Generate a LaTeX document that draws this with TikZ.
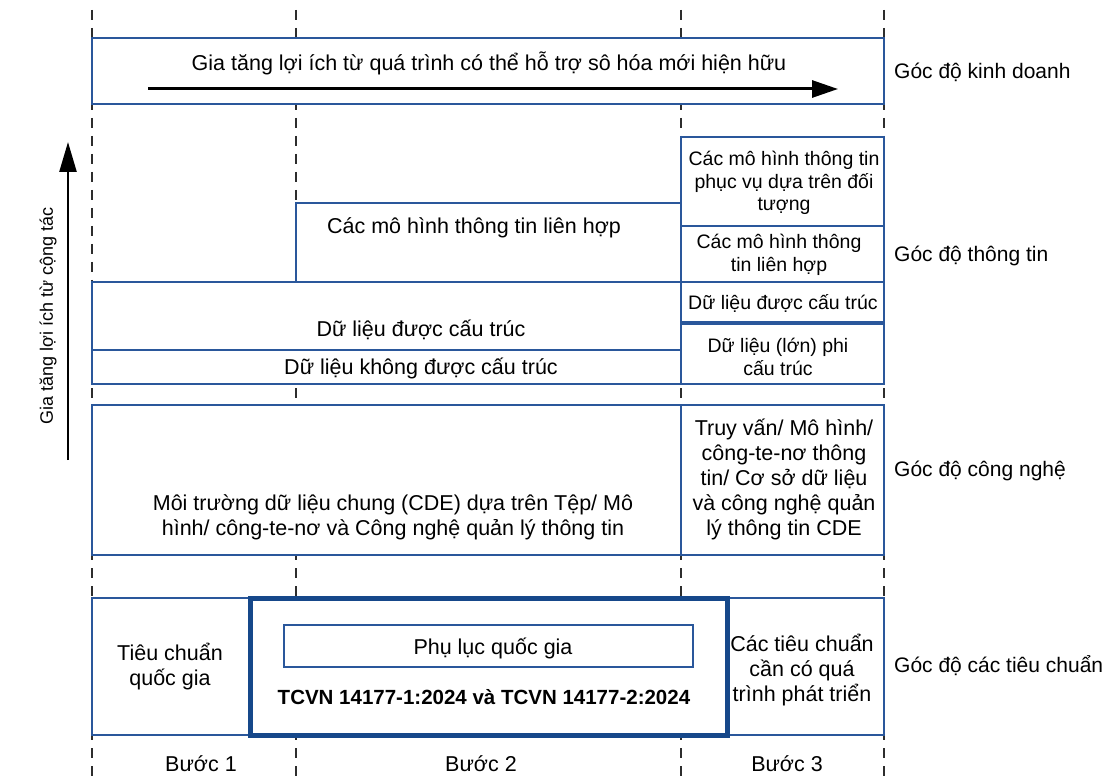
\documentclass[tikz,border=0pt]{standalone}
\usepackage{fontspec}
\setmainfont{Liberation Sans}
\usetikzlibrary{arrows.meta}
\definecolor{bl}{RGB}{42,87,155}
\definecolor{dbl}{RGB}{22,72,138}
\definecolor{dk}{RGB}{45,45,45}
\begin{document}
\begin{tikzpicture}[x=1pt,y=-1pt,
  guide/.style={draw=dk, line width=2pt, dash pattern=on 10pt off 8pt},
  frame/.style={draw=bl, line width=2pt, fill=white},
  thinline/.style={draw=bl, line width=1.6pt},
  lbl/.style={inner sep=0pt, align=center, font=\fontsize{21.5}{25}\selectfont},
  smalllbl/.style={inner sep=0pt, align=center, font=\fontsize{19.5}{22.5}\selectfont},
  side/.style={inner sep=0pt, anchor=west, font=\fontsize{21}{25}\selectfont},
  bigarrow/.style={line width=3pt, -{Triangle[length=26pt,width=17pt]}},
]
\useasboundingbox[fill=white] (0,0) rectangle (1117,778);

% guide lines
\foreach \gx in {92,296,681,884} {\draw[guide] (\gx,10) -- (\gx,778);}

% business
\draw[frame] (92,38) rectangle (884,104);
\node[lbl] (biz) at (489,63) {Gia tăng lợi ích từ quá trình có thể hỗ trợ sô hóa mới hiện hữu};
\coordinate (ba) at (148,89);
\coordinate (bb) at (838,89);
\draw[bigarrow] (ba) -- (bb);

% information
\draw[frame, line width=2.5pt] (92,282) -- (296,282) -- (296,203) -- (681,203) -- (681,137) -- (884,137) -- (884,384) -- (92,384) -- cycle;
\draw[thinline] (296,282) -- (884,282);
\draw[thinline] (92,350) -- (681,350);
\draw[thinline] (681,203) -- (681,384);
\draw[thinline] (681,226) -- (884,226);
\draw[draw=bl, line width=4pt] (681,323) -- (884,323);
\node[lbl] (i1) at (474,228) {Các mô hình thông tin liên hợp};
\node[lbl] (i2) at (421,330) {Dữ liệu được cấu trúc};
\node[lbl] (i3) at (421,368) {Dữ liệu không được cấu trúc};
\node[smalllbl] (r1) at (784,183) {Các mô hình thông tin\\phục vụ dựa trên đối\\tượng};
\node[smalllbl] (r2) at (779,255) {Các mô hình thông\\tin liên hợp};
\node[smalllbl] (r3) at (783,303) {Dữ liệu được cấu trúc};
\node[smalllbl] (r4) at (778,357) {Dữ liệu (lớn) phi\\cấu trúc};

% technology
\draw[frame] (92,405) rectangle (884,555);
\draw[thinline] (681,405) -- (681,555);
\node[lbl] (t1) at (393,517) {Môi trường dữ liệu chung (CDE) dựa trên Tệp/ Mô\\hình/ công-te-nơ và Công nghệ quản lý thông tin};
\node[lbl] (t2) at (784,479) {Truy vấn/ Mô hình/\\công-te-nơ thông\\tin/ Cơ sở dữ liệu\\và công nghệ quản\\lý thông tin CDE};

% standards
\draw[frame] (92,598) rectangle (884,735);
\draw[draw=dbl, line width=5pt, fill=white] (250,598) rectangle (727,735);
\draw[draw=bl, line width=1.6pt] (284,625) rectangle (693,667);
\node[lbl] (s1) at (493,648) {Phụ lục quốc gia};
\node[lbl, font=\bfseries\fontsize{20.5}{24}\selectfont] (s2) at (484,697) {TCVN 14177-1:2024 và TCVN 14177-2:2024};
\node[lbl] (s3) at (170,667) {Tiêu chuẩn\\quốc gia};
\node[lbl] (s4) at (802,670) {Các tiêu chuẩn\\cần có quá\\trình phát triển};

% steps
\node[lbl] (b1) at (201,764) {Bước 1};
\node[lbl] (b2) at (481,764) {Bước 2};
\node[lbl] (b3) at (787,764) {Bước 3};

% side labels
\node[side] (g1) at (894,72) {Góc độ kinh doanh};
\node[side] (g2) at (894,256) {Góc độ thông tin};
\node[side] (g3) at (894,471) {Góc độ công nghệ};
\node[side] (g4) at (894,666) {Góc độ các tiêu chuẩn};

% vertical arrow
\coordinate (va) at (68,460);
\coordinate (vb) at (68,142);
\draw[line width=2.5pt, -{Triangle[length=30pt,width=17pt]}] (va) -- (vb);
\node[inner sep=0pt, rotate=90, font=\fontsize{18}{20}\selectfont] (vt) at (48,316) {Gia tăng lợi ích từ cộng tác};
\end{tikzpicture}
\end{document}
